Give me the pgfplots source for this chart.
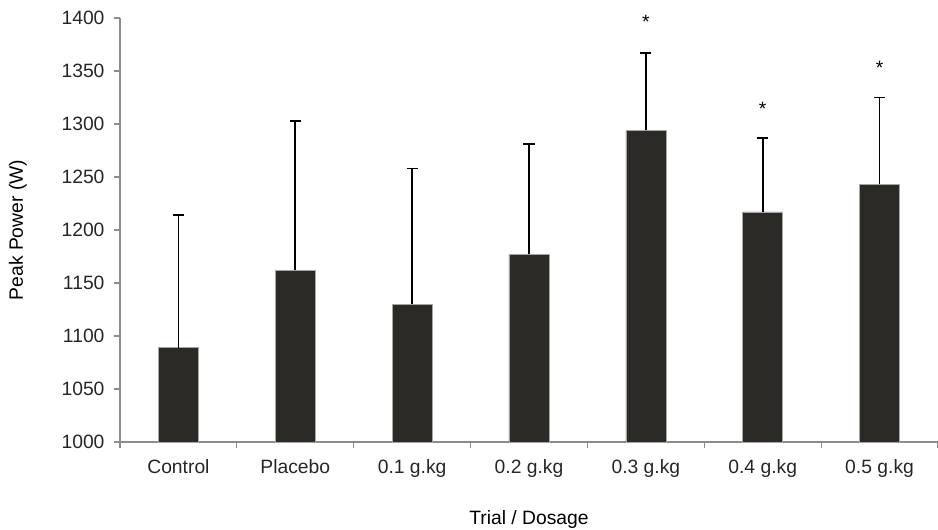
\documentclass[border=0pt]{standalone}
\usepackage{fontspec}
\setmainfont{Liberation Sans}
\usepackage{pgfplots}
\pgfplotsset{compat=1.18}
\usepackage{pgfplotstable}
\definecolor{barfill}{HTML}{2B2A26}
\definecolor{axisgray}{HTML}{8C8C8C}
\pgfplotstableread{
x y e
0 1089 125
1 1162 141
2 1130 128
3 1177 104
4 1294 73
5 1217 70
6 1243 82
}\bars
\pgfplotstableread{
x y
4 1396
5 1314
6 1353
}\stars
\begin{document}
\begin{tikzpicture}
\useasboundingbox (-120bp,-88bp) rectangle (818bp,442bp);
\begin{axis}[
  at={(0,0)}, anchor=south west,
  scale only axis, width=818bp, height=424bp,
  xmin=-0.5, xmax=6.5, ymin=1000, ymax=1400,
  axis x line*=bottom, axis y line*=left,
  axis line style={axisgray, line width=1.2bp},
  ytick={1000,1050,...,1400},
  xtick={-0.5,0.5,...,6.5},
  xticklabels={},
  extra x ticks={0,...,6},
  extra x tick labels={Control,Placebo,0.1 g.kg,0.2 g.kg,0.3 g.kg,0.4 g.kg,0.5 g.kg},
  extra x tick style={tick style={draw=none}},
  tick align=outside,
  major tick length=6bp,
  tick style={axisgray, line width=1.2bp},
  /pgf/number format/assume math mode=true,
  /pgf/number format/set thousands separator={},
  tick label style={font=\fontsize{19.3bp}{22bp}\selectfont, text=black!85},
  yticklabel style={xshift=-6bp},
  xticklabel style={yshift=-8bp},
  xlabel={Trial / Dosage},
  ylabel={Peak Power (W)},
  label style={font=\fontsize{19.3bp}{22bp}\selectfont},
  xlabel style={at={(axis description cs:0.5,-0.183)}, anchor=center},
  ylabel style={at={(axis description cs:-0.1247,0.5)}, anchor=center, rotate=0},
  clip=false,
]
\addplot[ybar, bar width=40bp, fill=barfill, draw=gray!70, line width=0.6bp,
  error bars/.cd, y dir=plus, y explicit,
  error bar style={black, line width=1.6bp},
  error mark options={black, line width=1.6bp, mark size=5.5bp, rotate=90}]
  table[x=x, y=y, y error=e] {\bars};
\addplot[draw=none, mark=none, nodes near coords={*},
  every node near coord/.style={anchor=center, font=\fontsize{19.3bp}{22bp}\selectfont, text=black}]
  table[x=x, y=y] {\stars};
\end{axis}
\end{tikzpicture}
\end{document}
